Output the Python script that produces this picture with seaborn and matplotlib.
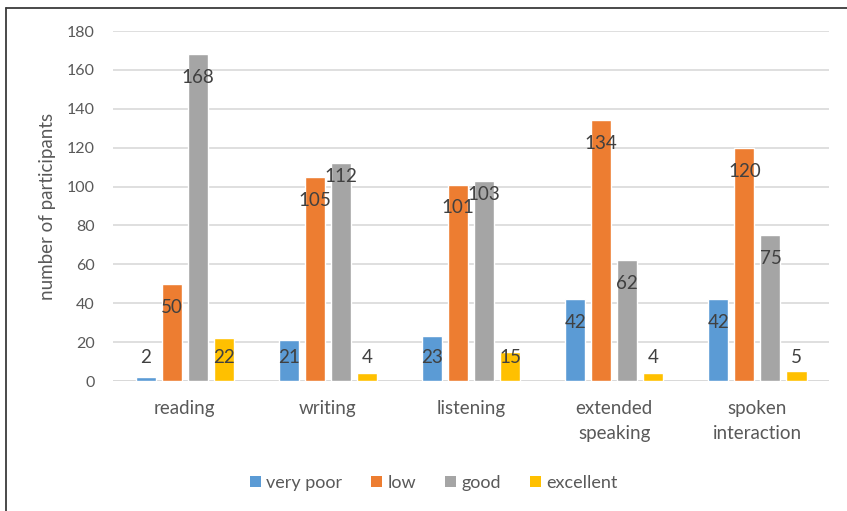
import matplotlib
matplotlib.use("Agg")
import matplotlib.pyplot as plt
from matplotlib.lines import Line2D
from matplotlib.patches import Patch
import pandas as pd
import seaborn as sns

# skill areas and rating groups
skills = ["reading", "writing", "listening", "extended\nspeaking", "spoken\ninteraction"]
levels = ["very poor", "low", "good", "excellent"]

very_poor = [2, 21, 23, 42, 42]
low = [50, 105, 101, 134, 120]
good = [168, 112, 103, 62, 75]
excellent = [22, 4, 15, 4, 5]

colors = ["#5B9BD5", "#ED7D31", "#A5A5A5", "#FFC000"]

# long form table for seaborn
rows = []
for level, vals in zip(levels, [very_poor, low, good, excellent]):
    for skill, v in zip(skills, vals):
        rows.append({"skill": skill, "level": level, "count": v})
df = pd.DataFrame(rows)

sns.set_style("white")
plt.rcParams["font.family"] = ["Lato", "DejaVu Sans"]

fig = plt.figure(figsize=(8.47, 5.11), dpi=100)
ax = fig.add_axes([0.1334, 0.2544, 0.8454, 0.6849])

sns.barplot(data=df, x="skill", y="count", hue="level", order=skills,
            hue_order=levels, palette=colors, width=0.727, gap=0.23,
            saturation=1, legend=False, ax=ax, zorder=3)

ax.set_ylim(0, 180)
ax.set_yticks(range(0, 181, 20))
ax.set_xlim(-0.5, len(skills) - 0.5)
ax.grid(axis="y", color="#D9D9D9", linewidth=1.2, zorder=0)
for s in ax.spines.values():
    s.set_visible(False)
ax.axhline(0, color="#D9D9D9", linewidth=1.4, zorder=2)

ax.tick_params(axis="x", length=0, labelcolor="#595959", labelsize=13.5, pad=14)
ax.tick_params(axis="y", length=0, labelcolor="#595959", labelsize=11.5, pad=13)
for t in ax.get_xticklabels():
    t.set_linespacing(1.55)
ax.set_xlabel("")
ax.set_ylabel("number of participants", color="#595959", fontsize=13.5, labelpad=8)

# data labels, inside end of bar (kept above the base for short bars)
series = [very_poor, low, good, excellent]
for j, bars in enumerate(ax.containers):
    for i, bar in enumerate(bars):
        h = bar.get_height()
        y = max(h - 12, 12)
        # nudge up when the neighbouring label sits at nearly the same height
        if j > 0 and h > series[j - 1][i] and h - series[j - 1][i] < 10:
            y = h - 7
        xc = bar.get_x() + bar.get_width() / 2
        ax.text(xc, y, f"{int(h)}", ha="center", va="center",
                fontsize=13.5, color="#404040", zorder=5)

handles = [Patch(facecolor=c, edgecolor="none") for c in colors]
fig.legend(handles, levels, loc="center", bbox_to_anchor=(0.512, 0.055), ncol=4,
           frameon=False, fontsize=13, labelcolor="#595959",
           handlelength=0.6, handleheight=0.6, handletextpad=0.3,
           columnspacing=1.6)

# outer frame (top and left edges visible)
fig.add_artist(Line2D([6 / 847, 1], [1 - 8 / 511, 1 - 8 / 511], color="#3A3A3A",
                      linewidth=1.3, transform=fig.transFigure))
fig.add_artist(Line2D([6 / 847, 6 / 847], [0, 1 - 8 / 511], color="#3A3A3A",
                      linewidth=1.3, transform=fig.transFigure))

fig.savefig("out.png", dpi=100)
